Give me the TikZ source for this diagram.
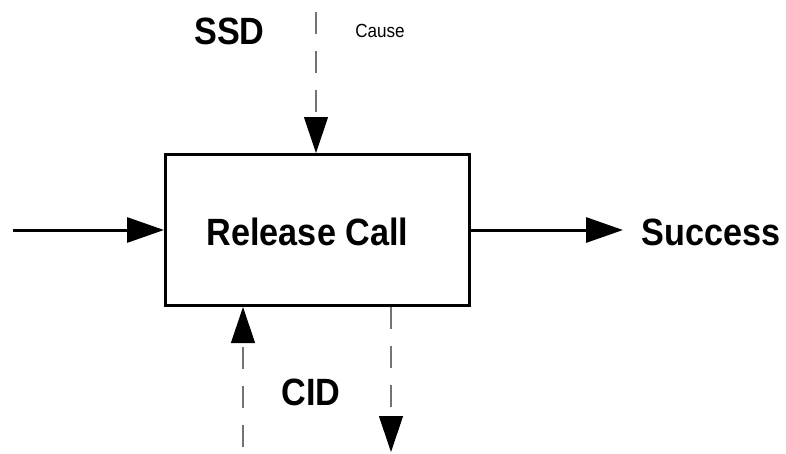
\documentclass[tikz,border=0pt]{standalone}
\usepackage{fontspec}
\setmainfont{Liberation Sans}[FakeStretch=0.9]
\usetikzlibrary{arrows.meta}

\tikzset{
  procbox/.style={draw, line width=3pt, minimum width=304pt, minimum height=151pt, inner sep=0pt},
  biglabel/.style={inner sep=0pt, anchor=base, font=\fontsize{38}{40}\selectfont\bfseries},
  smalllabel/.style={inner sep=0pt, anchor=base, font=\fontsize{19}{21}\selectfont},
  flow/.style={line width=3pt, -{Triangle[length=37pt,width=25pt]}},
  ctrl/.style={line width=1.2pt, black!55, dash pattern=on 22pt off 17pt,
               -{Triangle[length=36pt,width=24pt,color=black,fill=black]}}
}

\begin{document}
\begin{tikzpicture}[x=1pt,y=-1pt]
  \useasboundingbox (0,0) rectangle (786,453);

  % process box and its caption
  \node[procbox] (box) at (317.5,230) {};
  \node[biglabel] (title) at (307.5,245) {Release Call};

  % labels
  \node[biglabel] (ssd) at (229.5,44) {SSD};
  \node[smalllabel] (cause) at (380,37) {Cause};
  \node[biglabel] (cid) at (311,405) {CID};
  \node[biglabel] (succ) at (711,245) {Success};

  % free ends of the connectors
  \coordinate (inL) at (13,230);
  \coordinate (outR) at (623,230);
  \coordinate (topIn) at (316,12);
  \coordinate (botIn) at (243,447);
  \coordinate (botOut) at (391,452);

  % input and output flows
  \draw[flow] (inL) -- (box.west);
  \draw[flow] (box.east) -- (outR);

  % dashed control arrows
  \draw[ctrl] (topIn) -- (topIn |- box.north);
  \draw[ctrl] (botIn) -- (botIn |- box.south);
  \draw[ctrl] (botOut |- box.south) -- (botOut);
\end{tikzpicture}
\end{document}
